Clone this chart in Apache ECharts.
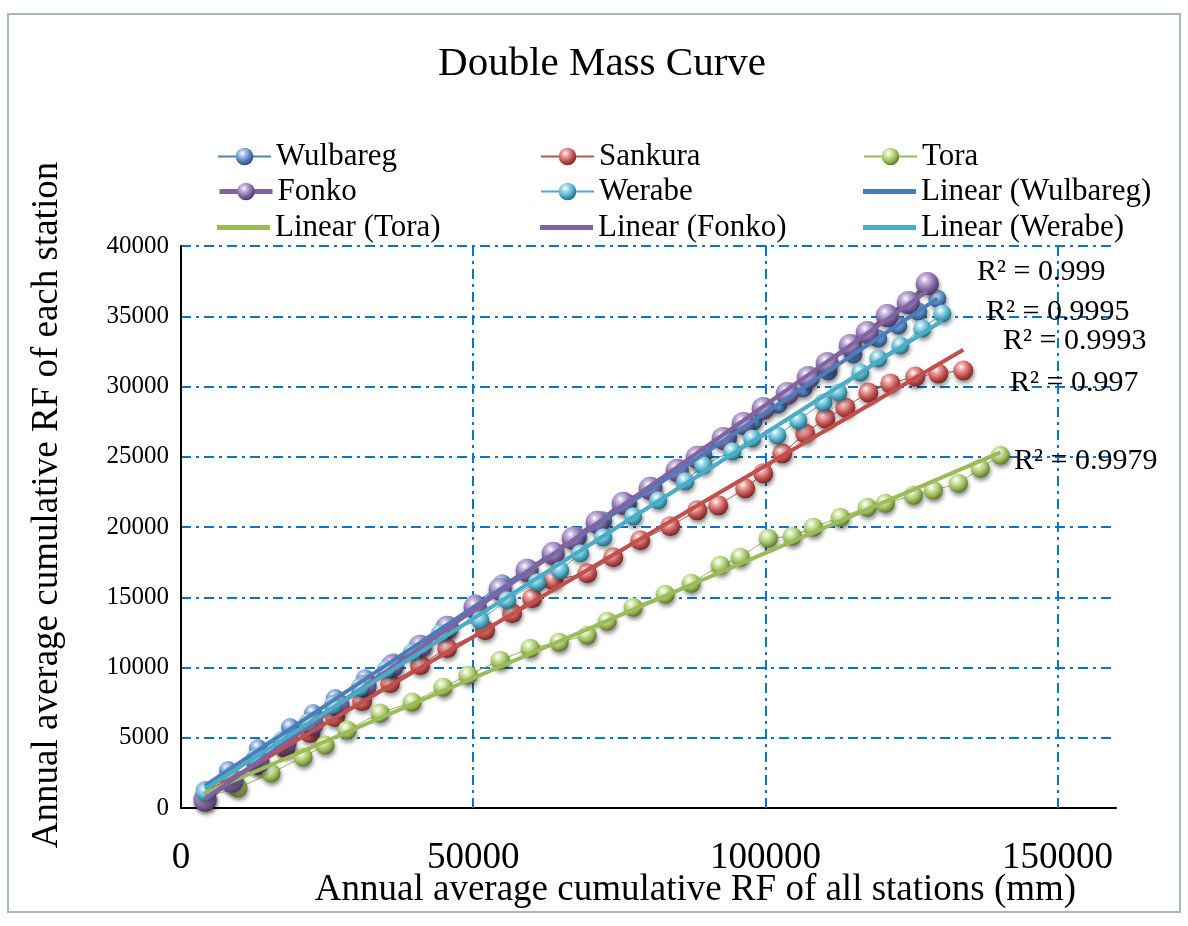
<!DOCTYPE html>
<html>
<head>
<meta charset="utf-8">
<title>Double Mass Curve</title>
<script src="https://cdn.jsdelivr.net/npm/echarts@6/dist/echarts.min.js"></script>
<style>
  html, body { margin: 0; padding: 0; background: #fff; }
  #main { width: 1188px; height: 926px; }
</style>
</head>
<body>
<div id="main"></div>
<script>
// cumulative RF (x = all stations, y = each station)
var xWulbareg = [4109, 8046, 13182, 18661, 22598, 26365, 31501, 36294, 41430, 45539, 50333, 54955, 59235, 63686, 67966, 72246, 76526, 80806, 85086, 89366, 93646, 97926, 102206, 106486, 110766, 115046, 119326, 122750, 126174, 129427];
var yWulbareg = [1280, 2702, 4266, 5759, 6755, 7821, 9243, 10381, 11589, 12656, 14576, 15998, 16922, 18131, 19339, 20477, 21686, 22823, 24032, 25169, 26378, 27516, 28724, 29862, 31071, 32279, 33417, 34341, 35337, 36261];

var xSankura = [4109, 8731, 13182, 17805, 22085, 26365, 30987, 35781, 40917, 45539, 52045, 56667, 60091, 63686, 69507, 73958, 78581, 83717, 88339, 91934, 96558, 99638, 102891, 106829, 110253, 113677, 117614, 121381, 125661, 129598, 133878];
var ySankura = [711, 1920, 3057, 4266, 5333, 6470, 7608, 8888, 10167, 11376, 12656, 13865, 14931, 16211, 16709, 17846, 19055, 20050, 21188, 21543, 22752, 23819, 25241, 26663, 27729, 28511, 29578, 30218, 30715, 30929, 31142];

var xTora = [4109, 9758, 15408, 20886, 24653, 28419, 34069, 39547, 44854, 49134, 54612, 59749, 64714, 69507, 72931, 77382, 82861, 87312, 92277, 95701, 100494, 104603, 108198, 112821, 117443, 120525, 125318, 128742, 133022, 136789, 140213];
var yTora = [782, 1422, 2489, 3626, 4480, 5546, 6755, 7537, 8603, 9456, 10523, 11376, 11803, 12300, 13296, 14291, 15215, 15997, 17277, 17846, 19197, 19339, 19979, 20690, 21401, 21686, 22254, 22610, 23108, 24174, 25098];

var xFonko = [4109, 8731, 13182, 17805, 22427, 26878, 31501, 36123, 40917, 45539, 50333, 54613, 59235, 63686, 67110, 71219, 75670, 80293, 84915, 88339, 92790, 96214, 99638, 103747, 107342, 110595, 114533, 117443, 120867, 124462, 127715];
var yFonko = [569, 1920, 3271, 4622, 5972, 7323, 8674, 10096, 11518, 12869, 14291, 15571, 16922, 18131, 19197, 20335, 21686, 22752, 24032, 24956, 26307, 27374, 28440, 29507, 30644, 31640, 32919, 33844, 35052, 35977, 37328];

var xWerabe = [4109, 8389, 12669, 17291, 21742, 26022, 30645, 35096, 39547, 44341, 51189, 55811, 60947, 64885, 68309, 72246, 77382, 81662, 86285, 89366, 94331, 97755, 102035, 105630, 109910, 112478, 116245, 119326, 123093, 126859, 130283];
var yWerabe = [1138, 2346, 3555, 4835, 6115, 7323, 8603, 9883, 11092, 12443, 13367, 14789, 16069, 16922, 18131, 19268, 20761, 21899, 23250, 24387, 25383, 26307, 26520, 27587, 28867, 29578, 30999, 31995, 32919, 34128, 35195];

var r2Labels = ['R\u00b2 = 0.999', 'R\u00b2 = 0.9995', 'R\u00b2 = 0.9993', 'R\u00b2 = 0.997', 'R\u00b2 = 0.9979'];

// legend layout: 3 columns x 3 rows, the same order as the excel legend
var legendRows = [
  ['Wulbareg', 'Sankura', 'Tora'],
  ['Fonko', 'Werabe', 'Linear (Wulbareg)'],
  ['Linear (Tora)', 'Linear (Fonko)', 'Linear (Werabe)']
];

var serif = 'Liberation Serif, Times New Roman, serif';

function pairs(xs, ys){
  var out = [];
  for (var i = 0; i < xs.length; i++) out.push([xs[i], ys[i]]);
  return out;
}

// least squares line, drawn from min x to max x like an excel trendline
function trend(xs, ys){
  var n = xs.length, sx = 0, sy = 0, sxx = 0, sxy = 0;
  for (var i = 0; i < n; i++){ sx += xs[i]; sy += ys[i]; sxx += xs[i]*xs[i]; sxy += xs[i]*ys[i]; }
  var b = (n*sxy - sx*sy) / (n*sxx - sx*sx);
  var a = (sy - b*sx) / n;
  var x0 = Math.min.apply(null, xs), x1 = Math.max.apply(null, xs);
  return [[x0, a + b*x0], [x1, a + b*x1]];
}

function sphere(base, light, dark){
  return {
    type: 'radial', x: 0.38, y: 0.32, r: 0.7,
    colorStops: [
      {offset: 0, color: '#ffffff'},
      {offset: 0.22, color: light},
      {offset: 0.65, color: base},
      {offset: 1, color: dark}
    ]
  };
}

function dots(name, xs, ys, base, light, dark, size, lw){
  return {
    name: name,
    type: 'line',
    data: pairs(xs, ys),
    symbol: 'circle',
    symbolSize: size,
    showSymbol: true,
    z: 2,
    lineStyle: {color: base, width: lw},
    itemStyle: {
      color: sphere(base, light, dark),
      shadowBlur: 4,
      shadowColor: 'rgba(0,0,0,0.45)',
      shadowOffsetX: 1,
      shadowOffsetY: 3
    },
    emphasis: {disabled: true}
  };
}

function fit(name, xs, ys, color){
  return {
    name: name,
    type: 'line',
    data: trend(xs, ys),
    symbol: 'none',
    z: 3,
    lineStyle: {color: color, width: 4},
    itemStyle: {color: color},
    emphasis: {disabled: true}
  };
}

var gridDash = [10, 5, 3, 5];
var colLeft = [212, 535, 858];
var rowTop = [136, 171, 207];

var legends = [];
legendRows.forEach(function(row, r){
  row.forEach(function(name, c){
    var isFit = name.indexOf('Linear') === 0;
    var lg = {
      left: colLeft[c],
      top: rowTop[r],
      itemWidth: 53,
      itemHeight: isFit ? 5 : 22,
      selectedMode: false,
      textStyle: {fontFamily: serif, fontSize: 31, color: '#000', lineHeight: 24},
      data: isFit ? [{name: name, icon: 'rect'}] : [name]
    };
    if (name === 'Fonko') lg.lineStyle = {width: 5};
    legends.push(lg);
  });
});

var myChart = echarts.init(document.getElementById('main'));

var option = {
  backgroundColor: '#fff',
  animation: false,
  graphic: [
    {type: 'rect', shape: {x: 8, y: 14, width: 1172, height: 898}, style: {fill: 'none', stroke: '#a3b9be', lineWidth: 2}, silent: true},
    {type: 'text', x: 602, y: 64, style: {text: 'Double Mass Curve', font: '41px ' + serif, fill: '#000', textAlign: 'center', textVerticalAlign: 'middle'}},
    {type: 'text', x: 977, y: 272, style: {text: r2Labels[0], font: '30px ' + serif, fill: '#000', textVerticalAlign: 'middle'}, z: 10},
    {type: 'text', x: 986, y: 312, style: {text: r2Labels[1], font: '30px ' + serif, fill: '#000', textVerticalAlign: 'middle'}, z: 10},
    {type: 'text', x: 1003, y: 341, style: {text: r2Labels[2], font: '30px ' + serif, fill: '#000', textVerticalAlign: 'middle'}, z: 10},
    {type: 'text', x: 1010, y: 383, style: {text: r2Labels[3], font: '30px ' + serif, fill: '#000', textVerticalAlign: 'middle'}, z: 10},
    {type: 'text', x: 1014, y: 461, style: {text: r2Labels[4], font: '30px ' + serif, fill: '#000', textVerticalAlign: 'middle'}, z: 10}
  ],
  legend: legends,
  grid: {left: 181, right: 72, top: 246, bottom: 118, containLabel: false},
  xAxis: {
    type: 'value',
    min: 0,
    max: 160000,
    interval: 50000,
    name: 'Annual average cumulative RF of all stations (mm)',
    nameLocation: 'middle',
    nameGap: 64,
    nameMoveOverlap: false,
    nameTextStyle: {fontFamily: serif, fontSize: 37, color: '#000', padding: [0, 0, 0, 94]},
    axisLine: {show: true, lineStyle: {color: '#000', width: 2}},
    axisTick: {show: false},
    axisLabel: {fontFamily: serif, fontSize: 37, color: '#000', margin: 32, showMaxLabel: false,
      formatter: function(v){ return String(v); }},
    splitLine: {show: false}
  },
  yAxis: {
    type: 'value',
    min: 0,
    max: 40000,
    interval: 5000,
    name: 'Annual average cumulative RF of each station',
    nameLocation: 'middle',
    nameGap: 115,
    nameMoveOverlap: false,
    nameTextStyle: {fontFamily: serif, fontSize: 37, color: '#000', padding: [0, 0, 0, 44]},
    axisLine: {show: true, lineStyle: {color: '#000', width: 2}},
    axisTick: {show: false},
    axisLabel: {fontFamily: serif, fontSize: 25, color: '#000', margin: 12,
      formatter: function(v){ return String(v); }},
    splitLine: {show: true, lineStyle: {color: '#0a74c8', width: 2, type: gridDash}}
  },
  series: [
    // vertical grid lines at the labelled x ticks only
    {
      name: 'vgrid',
      type: 'line',
      data: [],
      z: 1,
      markLine: {
        silent: true,
        z: 1,
        symbol: ['none', 'none'],
        label: {show: false},
        lineStyle: {color: '#0a74c8', width: 2, type: gridDash},
        data: [{xAxis: 50000}, {xAxis: 100000}, {xAxis: 150000}]
      }
    },
    dots('Wulbareg', xWulbareg, yWulbareg, '#4f81bd', '#b3cbec', '#284a73', 18, 1),
    dots('Sankura', xSankura, ySankura, '#c0504d', '#f0aeac', '#742624', 20, 1),
    dots('Tora', xTora, yTora, '#9bbb59', '#dcedb8', '#5b7229', 19, 1),
    dots('Fonko', xFonko, yFonko, '#8064a2', '#c9b8de', '#4a3562', 23, 4),
    dots('Werabe', xWerabe, yWerabe, '#4bacc6', '#b0e0ee', '#22687a', 18, 1),
    fit('Linear (Wulbareg)', xWulbareg, yWulbareg, '#4a7ebb'),
    fit('Linear (Sankura)', xSankura, ySankura, '#c0504d'),
    fit('Linear (Tora)', xTora, yTora, '#9bbb59'),
    fit('Linear (Fonko)', xFonko, yFonko, '#8064a2'),
    fit('Linear (Werabe)', xWerabe, yWerabe, '#4bacc6')
  ]
};

myChart.setOption(option);
</script>
</body>
</html>
